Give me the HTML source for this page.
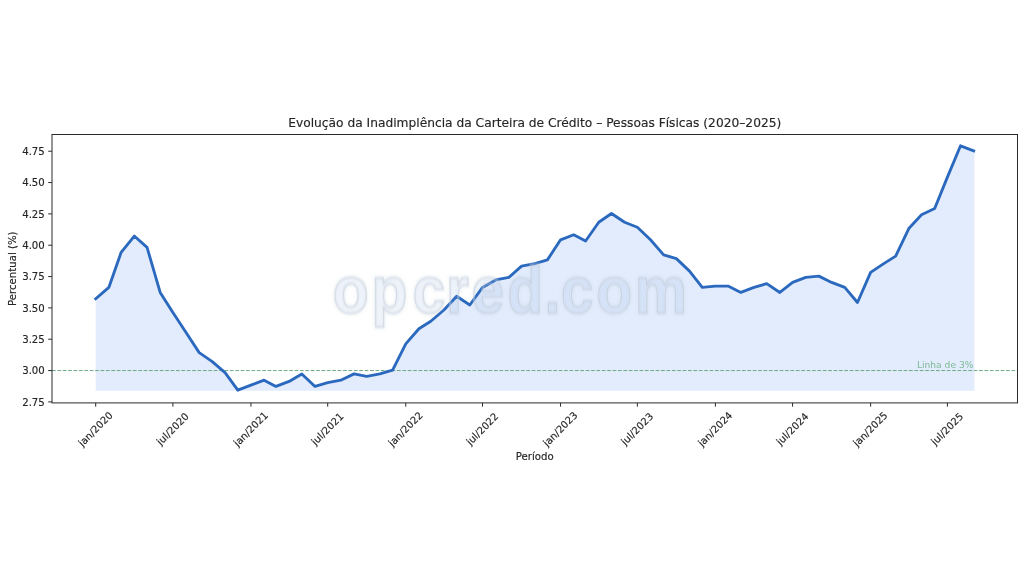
<!DOCTYPE html>
<html lang="pt-BR"><head><meta charset="utf-8">
<title>Evolução da Inadimplência da Carteira de Crédito</title>
<style>
html,body{margin:0;padding:0;background:#fff;}
body{width:1024px;height:580px;overflow:hidden;}
svg{display:block;}
text{font-family:"DejaVu Sans", "Liberation Sans", sans-serif;fill:#262626;}
.k{stroke:#262626;stroke-width:0.15px;}
</style></head><body>
<svg width="1024" height="580" viewBox="0 0 1024 580">
<defs><filter id="wmblur" x="-5%" y="-20%" width="110%" height="140%"><feGaussianBlur stdDeviation="0.8"/></filter><filter id="wmblur2" x="-5%" y="-20%" width="110%" height="140%"><feGaussianBlur stdDeviation="1.5"/></filter></defs>
<rect x="0" y="0" width="1024" height="580" fill="#ffffff"/>
<path d="M95.70,298.71 L108.85,287.43 L121.15,252.33 L134.30,236.04 L147.02,247.32 L160.17,292.44 L172.90,312.49 L186.04,332.55 L199.19,352.60 L211.92,361.37 L225.07,372.65 L237.79,390.20 L250.94,385.19 L264.09,380.17 L275.97,386.44 L289.11,381.43 L301.84,373.91 L314.99,386.44 L327.71,382.68 L340.86,380.17 L354.01,373.91 L366.73,376.41 L379.88,373.91 L392.61,370.15 L405.76,343.83 L418.91,328.79 L430.78,321.27 L443.93,309.99 L456.66,296.20 L469.80,304.97 L482.53,287.43 L495.68,279.91 L508.83,277.40 L521.55,266.12 L534.70,263.61 L547.42,259.85 L560.57,239.80 L573.72,234.79 L585.60,241.05 L598.75,222.25 L611.47,213.48 L624.62,222.25 L637.35,227.27 L650.49,239.80 L663.64,254.84 L676.37,258.60 L689.52,271.13 L702.24,287.43 L715.39,286.17 L728.54,286.17 L740.84,292.44 L753.99,287.43 L766.71,283.67 L779.86,292.44 L792.59,282.41 L805.73,277.40 L818.88,276.15 L831.61,282.41 L844.76,287.43 L857.48,302.47 L870.63,272.39 L883.78,263.61 L895.66,256.09 L908.80,228.52 L921.53,214.73 L934.68,208.47 L947.40,177.13 L960.55,145.80 L973.70,150.81 L974.40,150.81 L974.40,390.70 L95.70,390.70 Z" fill="#e3ecfc" stroke="none"/>
<line x1="52.0" x2="1017.5" y1="370.55" y2="370.55" stroke="#6eaa87" stroke-width="1.0" stroke-dasharray="3.76 1.63"/>
<path d="M95.70,298.71 L108.85,287.43 L121.15,252.33 L134.30,236.04 L147.02,247.32 L160.17,292.44 L172.90,312.49 L186.04,332.55 L199.19,352.60 L211.92,361.37 L225.07,372.65 L237.79,390.20 L250.94,385.19 L264.09,380.17 L275.97,386.44 L289.11,381.43 L301.84,373.91 L314.99,386.44 L327.71,382.68 L340.86,380.17 L354.01,373.91 L366.73,376.41 L379.88,373.91 L392.61,370.15 L405.76,343.83 L418.91,328.79 L430.78,321.27 L443.93,309.99 L456.66,296.20 L469.80,304.97 L482.53,287.43 L495.68,279.91 L508.83,277.40 L521.55,266.12 L534.70,263.61 L547.42,259.85 L560.57,239.80 L573.72,234.79 L585.60,241.05 L598.75,222.25 L611.47,213.48 L624.62,222.25 L637.35,227.27 L650.49,239.80 L663.64,254.84 L676.37,258.60 L689.52,271.13 L702.24,287.43 L715.39,286.17 L728.54,286.17 L740.84,292.44 L753.99,287.43 L766.71,283.67 L779.86,292.44 L792.59,282.41 L805.73,277.40 L818.88,276.15 L831.61,282.41 L844.76,287.43 L857.48,302.47 L870.63,272.39 L883.78,263.61 L895.66,256.09 L908.80,228.52 L921.53,214.73 L934.68,208.47 L947.40,177.13 L960.55,145.80 L973.70,150.81" fill="none" stroke="#2b69bf" stroke-width="2.85" stroke-linejoin="round" stroke-linecap="square"/>
<text x="973.40" y="367.55" font-size="9.14" text-anchor="end" style="fill:#7db996">Linha de 3%</text>
<text x="350.33 391.08 434.30 469.52 496.29 533.83 572.79 590.35 627.64 668.21" y="0" font-size="62.0" font-weight="bold" transform="translate(0,312.8) scale(0.95,1.07)" style="font-family:'Liberation Sans','DejaVu Sans',sans-serif;fill:#5a8cd7;fill-opacity:0.085;stroke:#ffffff;stroke-opacity:0.35;stroke-width:2.6" filter="url(#wmblur)">opcred.com</text>
<text x="350.33 391.08 434.30 469.52 496.29 533.83 572.79 590.35 627.64 668.21" y="0" font-size="62.0" font-weight="bold" transform="translate(0,312.8) scale(0.95,1.07)" style="font-family:'Liberation Sans','DejaVu Sans',sans-serif;fill:none;stroke:#64809f;stroke-opacity:0.10;stroke-width:3.4" filter="url(#wmblur2)">opcred.com</text>
<text x="350.33 391.08 434.30 469.52 496.29 533.83 572.79 590.35 627.64 668.21" y="0" font-size="62.0" font-weight="bold" transform="translate(0,312.8) scale(0.95,1.07)" style="font-family:'Liberation Sans','DejaVu Sans',sans-serif;fill:none;stroke:#64809f;stroke-opacity:0.19;stroke-width:1.4" filter="url(#wmblur)">opcred.com</text>
<rect x="52.0" y="134.5" width="965.5" height="268.4" fill="none" stroke="#2a2a2a" stroke-width="1.0"/>
<line x1="48.20" x2="52.0" y1="401.88" y2="401.88" stroke="#2a2a2a" stroke-width="1.0"/>
<text x="44.80" y="405.73" font-size="10.16" class="k" text-anchor="end">2.75</text>
<line x1="48.20" x2="52.0" y1="370.55" y2="370.55" stroke="#2a2a2a" stroke-width="1.0"/>
<text x="44.80" y="374.40" font-size="10.16" class="k" text-anchor="end">3.00</text>
<line x1="48.20" x2="52.0" y1="339.21" y2="339.21" stroke="#2a2a2a" stroke-width="1.0"/>
<text x="44.80" y="343.06" font-size="10.16" class="k" text-anchor="end">3.25</text>
<line x1="48.20" x2="52.0" y1="307.88" y2="307.88" stroke="#2a2a2a" stroke-width="1.0"/>
<text x="44.80" y="311.73" font-size="10.16" class="k" text-anchor="end">3.50</text>
<line x1="48.20" x2="52.0" y1="276.55" y2="276.55" stroke="#2a2a2a" stroke-width="1.0"/>
<text x="44.80" y="280.40" font-size="10.16" class="k" text-anchor="end">3.75</text>
<line x1="48.20" x2="52.0" y1="245.21" y2="245.21" stroke="#2a2a2a" stroke-width="1.0"/>
<text x="44.80" y="249.06" font-size="10.16" class="k" text-anchor="end">4.00</text>
<line x1="48.20" x2="52.0" y1="213.88" y2="213.88" stroke="#2a2a2a" stroke-width="1.0"/>
<text x="44.80" y="217.73" font-size="10.16" class="k" text-anchor="end">4.25</text>
<line x1="48.20" x2="52.0" y1="182.55" y2="182.55" stroke="#2a2a2a" stroke-width="1.0"/>
<text x="44.80" y="186.40" font-size="10.16" class="k" text-anchor="end">4.50</text>
<line x1="48.20" x2="52.0" y1="151.21" y2="151.21" stroke="#2a2a2a" stroke-width="1.0"/>
<text x="44.80" y="155.06" font-size="10.16" class="k" text-anchor="end">4.75</text>
<line x1="95.70" x2="95.70" y1="402.9" y2="406.70" stroke="#2a2a2a" stroke-width="1.0"/>
<text x="0" y="0" font-size="9.95" class="k" text-anchor="middle" transform="translate(95.30,428.80) rotate(-45) translate(0,3.7)">jan/2020</text>
<line x1="172.90" x2="172.90" y1="402.9" y2="406.70" stroke="#2a2a2a" stroke-width="1.0"/>
<text x="0" y="0" font-size="9.95" class="k" text-anchor="middle" transform="translate(172.50,428.80) rotate(-45) translate(0,3.7)">jul/2020</text>
<line x1="250.94" x2="250.94" y1="402.9" y2="406.70" stroke="#2a2a2a" stroke-width="1.0"/>
<text x="0" y="0" font-size="9.95" class="k" text-anchor="middle" transform="translate(250.54,428.80) rotate(-45) translate(0,3.7)">jan/2021</text>
<line x1="327.71" x2="327.71" y1="402.9" y2="406.70" stroke="#2a2a2a" stroke-width="1.0"/>
<text x="0" y="0" font-size="9.95" class="k" text-anchor="middle" transform="translate(327.31,428.80) rotate(-45) translate(0,3.7)">jul/2021</text>
<line x1="405.76" x2="405.76" y1="402.9" y2="406.70" stroke="#2a2a2a" stroke-width="1.0"/>
<text x="0" y="0" font-size="9.95" class="k" text-anchor="middle" transform="translate(405.36,428.80) rotate(-45) translate(0,3.7)">jan/2022</text>
<line x1="482.53" x2="482.53" y1="402.9" y2="406.70" stroke="#2a2a2a" stroke-width="1.0"/>
<text x="0" y="0" font-size="9.95" class="k" text-anchor="middle" transform="translate(482.13,428.80) rotate(-45) translate(0,3.7)">jul/2022</text>
<line x1="560.57" x2="560.57" y1="402.9" y2="406.70" stroke="#2a2a2a" stroke-width="1.0"/>
<text x="0" y="0" font-size="9.95" class="k" text-anchor="middle" transform="translate(560.17,428.80) rotate(-45) translate(0,3.7)">jan/2023</text>
<line x1="637.35" x2="637.35" y1="402.9" y2="406.70" stroke="#2a2a2a" stroke-width="1.0"/>
<text x="0" y="0" font-size="9.95" class="k" text-anchor="middle" transform="translate(636.95,428.80) rotate(-45) translate(0,3.7)">jul/2023</text>
<line x1="715.39" x2="715.39" y1="402.9" y2="406.70" stroke="#2a2a2a" stroke-width="1.0"/>
<text x="0" y="0" font-size="9.95" class="k" text-anchor="middle" transform="translate(714.99,428.80) rotate(-45) translate(0,3.7)">jan/2024</text>
<line x1="792.59" x2="792.59" y1="402.9" y2="406.70" stroke="#2a2a2a" stroke-width="1.0"/>
<text x="0" y="0" font-size="9.95" class="k" text-anchor="middle" transform="translate(792.19,428.80) rotate(-45) translate(0,3.7)">jul/2024</text>
<line x1="870.63" x2="870.63" y1="402.9" y2="406.70" stroke="#2a2a2a" stroke-width="1.0"/>
<text x="0" y="0" font-size="9.95" class="k" text-anchor="middle" transform="translate(870.23,428.80) rotate(-45) translate(0,3.7)">jan/2025</text>
<line x1="947.40" x2="947.40" y1="402.9" y2="406.70" stroke="#2a2a2a" stroke-width="1.0"/>
<text x="0" y="0" font-size="9.95" class="k" text-anchor="middle" transform="translate(947.00,428.80) rotate(-45) translate(0,3.7)">jul/2025</text>
<text x="534.75" y="460.4" font-size="10.16" class="k" text-anchor="middle">Período</text>
<text x="0" y="0" font-size="10.16" class="k" text-anchor="middle" transform="translate(15.5,268.70) rotate(-90)">Percentual (%)</text>
<text x="534.75" y="126.8" class="k" font-size="12.24" text-anchor="middle">Evolução da Inadimplência da Carteira de Crédito – Pessoas Físicas (2020–2025)</text>
</svg>
</body></html>
